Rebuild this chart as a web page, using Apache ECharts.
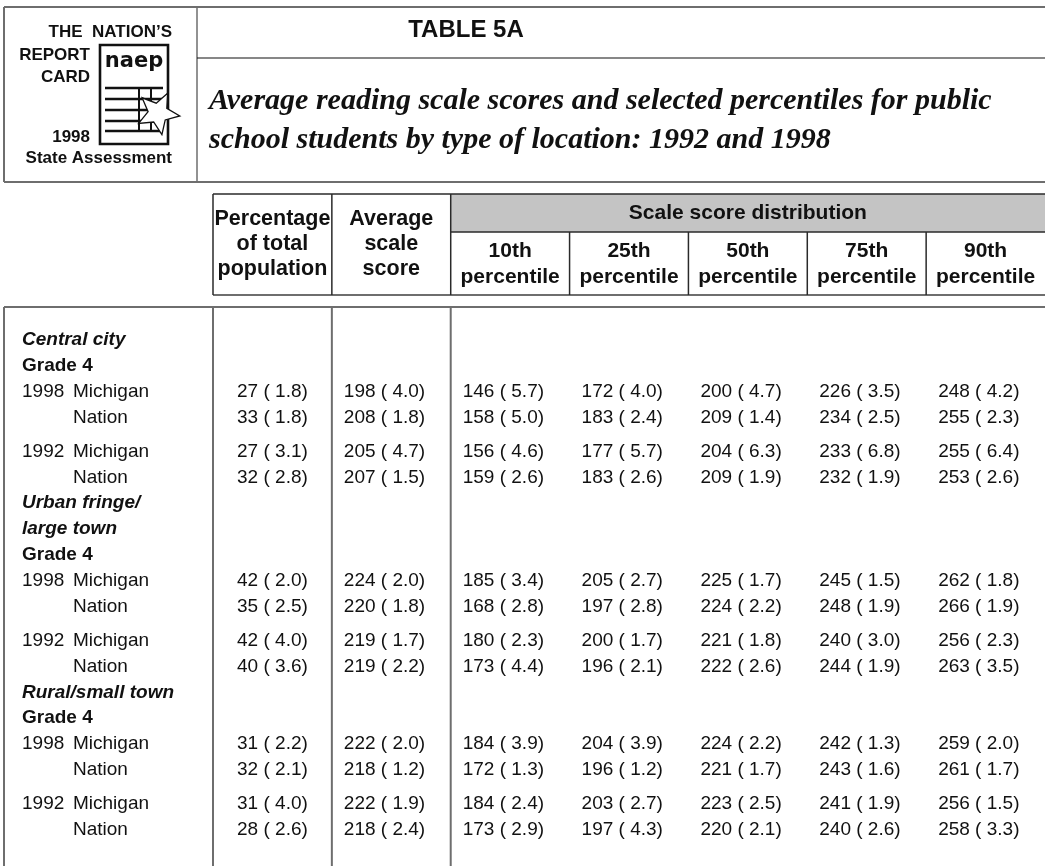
<!DOCTYPE html>
<html><head><meta charset="utf-8">
<script src="https://cdn.jsdelivr.net/npm/echarts@6/dist/echarts.min.js"></script>
<style>html,body{margin:0;padding:0;background:#fff}#c{width:1045px;height:866px}</style>
</head><body><div id="c"></div>
<script>
// ---------- DATA ----------
const columnKeys = ['pct', 'avg', 'p10', 'p25', 'p50', 'p75', 'p90'];
const topHeaders = [['Percentage', 'of total', 'population'], ['Average', 'scale', 'score']];
const groupHeader = 'Scale score distribution';
const percentileHeaders = ['10th', '25th', '50th', '75th', '90th'];
const locations = [['Central city'], ['Urban fringe/', 'large town'], ['Rural/small town']];
const gradeLabel = 'Grade 4';
const years = ['1998', '', '1992', ''];
const jurisdictions = ['Michigan', 'Nation', 'Michigan', 'Nation'];

// rows per location: 1998 Michigan, 1998 Nation, 1992 Michigan, 1992 Nation
const pctPopulation   = [27, 33, 27, 32,   42, 35, 42, 40,   31, 32, 31, 28];
const pctPopulationSE = [1.8, 1.8, 3.1, 2.8, 2.0, 2.5, 4.0, 3.6, 2.2, 2.1, 4.0, 2.6];
const avgScore        = [198, 208, 205, 207, 224, 220, 219, 219, 222, 218, 222, 218];
const avgScoreSE      = [4.0, 1.8, 4.7, 1.5, 2.0, 1.8, 1.7, 2.2, 2.0, 1.2, 1.9, 2.4];
const p10   = [146, 158, 156, 159, 185, 168, 180, 173, 184, 172, 184, 173];
const p10SE = [5.7, 5.0, 4.6, 2.6, 3.4, 2.8, 2.3, 4.4, 3.9, 1.3, 2.4, 2.9];
const p25   = [172, 183, 177, 183, 205, 197, 200, 196, 204, 196, 203, 197];
const p25SE = [4.0, 2.4, 5.7, 2.6, 2.7, 2.8, 1.7, 2.1, 3.9, 1.2, 2.7, 4.3];
const p50   = [200, 209, 204, 209, 225, 224, 221, 222, 224, 221, 223, 220];
const p50SE = [4.7, 1.4, 6.3, 1.9, 1.7, 2.2, 1.8, 2.6, 2.2, 1.7, 2.5, 2.1];
const p75   = [226, 234, 233, 232, 245, 248, 240, 244, 242, 243, 241, 240];
const p75SE = [3.5, 2.5, 6.8, 1.9, 1.5, 1.9, 3.0, 1.9, 1.3, 1.6, 1.9, 2.6];
const p90   = [248, 255, 255, 253, 262, 266, 256, 263, 259, 261, 256, 258];
const p90SE = [4.2, 2.3, 6.4, 2.6, 1.8, 1.9, 2.3, 3.5, 2.0, 1.7, 1.5, 3.3];

// ---------- LAYOUT ----------
const SANS = '"Liberation Sans", Arial, Helvetica, sans-serif';
const SERIF = '"Liberation Serif", "Times New Roman", serif';
const valueCols = [
  [pctPopulation, pctPopulationSE], [avgScore, avgScoreSE],
  [p10, p10SE], [p25, p25SE], [p50, p50SE], [p75, p75SE], [p90, p90SE]
];
const fmt = (v, se) => v + ' ( ' + se.toFixed(1) + ')';

const PITCH = 25.9, GAP = 7.8, FIRST_ROW = 340;
const labelRows = [];
const cellData = [];
const cellText = [];
let y = FIRST_ROW;
locations.forEach((loc, li) => {
  loc.forEach(line => { labelRows.push({ y, kind: 'loc', text: line }); y += PITCH; });
  labelRows.push({ y, kind: 'grade', text: gradeLabel }); y += PITCH;
  for (let r = 0; r < 4; r++) {
    if (r === 2) y += GAP;
    const idx = li * 4 + r;
    labelRows.push({ y, kind: 'row', year: years[r], text: jurisdictions[r] });
    valueCols.forEach((c, ci) => { cellData.push([ci, y]); cellText.push(fmt(c[0][idx], c[1][idx])); });
    y += PITCH;
  }
});

const HEAD_TOP = 194, BAND_BOTTOM = 232, HEAD_BOTTOM = 295, BODY_TOP = 307, BOTTOM = 870, TABLE_LEFT = 4;

function frame(params, api) {
  const bw = api.size([1, 0])[0];
  const edge = i => api.coord([0, 0])[0] - bw / 2 + i * bw;
  const cx = i => api.coord([i, 0])[0];
  const Y = v => api.coord([0, v])[1];
  const dark = { stroke: '#2a2a2a', lineWidth: 1.5 };
  const grey = { stroke: '#6e6e6e', lineWidth: 2 };
  const L = (x1, y1, x2, y2, s) => ({ type: 'line', shape: { x1, y1, x2, y2 }, style: s });
  const ch = [];
  ch.push({ type: 'rect', shape: { x: edge(2), y: Y(HEAD_TOP), width: edge(7) - edge(2), height: Y(BAND_BOTTOM) - Y(HEAD_TOP) }, style: { fill: '#c4c4c4' } });
  ch.push(L(edge(0), Y(HEAD_TOP), edge(7), Y(HEAD_TOP), dark));
  ch.push(L(edge(2), Y(BAND_BOTTOM), edge(7), Y(BAND_BOTTOM), dark));
  ch.push(L(edge(0), Y(HEAD_BOTTOM), edge(7), Y(HEAD_BOTTOM), grey));
  [0, 1, 2].forEach(i => ch.push(L(edge(i), Y(HEAD_TOP), edge(i), Y(HEAD_BOTTOM), dark)));
  [3, 4, 5, 6].forEach(i => ch.push(L(edge(i), Y(BAND_BOTTOM), edge(i), Y(HEAD_BOTTOM), dark)));
  ch.push(L(TABLE_LEFT, Y(BODY_TOP), edge(7), Y(BODY_TOP), grey));
  [TABLE_LEFT, edge(0), edge(1), edge(2)].forEach(x => ch.push(L(x, Y(BODY_TOP), x, Y(BOTTOM), grey)));
  const hfont = 'bold 21px ' + SANS;
  topHeaders.forEach((h, i) => ch.push({ type: 'text', style: { text: h.join('\n'), x: cx(i), y: Y(244.5), align: 'center', verticalAlign: 'middle', lineHeight: 25, font: 'bold 21.5px ' + SANS, fill: '#111' } }));
  ch.push({ type: 'text', style: { text: groupHeader, x: (edge(2) + edge(7)) / 2, y: Y(213.5), align: 'center', verticalAlign: 'middle', font: hfont, fill: '#111' } });
  percentileHeaders.forEach((h, i) => ch.push({ type: 'text', style: { text: h + '\npercentile', x: cx(i + 2), y: Y(264.5), align: 'center', verticalAlign: 'middle', lineHeight: 26, font: hfont, fill: '#111' } }));
  labelRows.forEach(r => {
    const yy = Y(r.y);
    if (r.kind === 'loc') ch.push({ type: 'text', style: { text: r.text, x: 22, y: yy, verticalAlign: 'middle', font: 'italic bold 19px ' + SANS, fill: '#111' } });
    else if (r.kind === 'grade') ch.push({ type: 'text', style: { text: r.text, x: 22, y: yy, verticalAlign: 'middle', font: 'bold 19px ' + SANS, fill: '#111' } });
    else {
      if (r.year) ch.push({ type: 'text', style: { text: r.year, x: 22, y: yy, verticalAlign: 'middle', font: '19px ' + SANS, fill: '#111' } });
      ch.push({ type: 'text', style: { text: r.text, x: 73, y: yy, verticalAlign: 'middle', font: '19px ' + SANS, fill: '#111' } });
    }
  });
  return { type: 'group', children: ch };
}

function cell(params, api) {
  const ci = api.value(0);
  const p = api.coord([ci, api.value(1)]);
  const bw = api.size([1, 0])[0];
  const left = ci !== 0;
  return {
    type: 'text',
    style: {
      text: cellText[params.dataIndex],
      x: left ? p[0] - bw / 2 + 12 : p[0], y: p[1],
      align: left ? 'left' : 'center', verticalAlign: 'middle',
      font: '19px ' + SANS, fill: '#111'
    }
  };
}

function starPoints(cx, cy, R, r, rot) {
  const pts = [];
  for (let k = 0; k < 10; k++) {
    const a = rot + k * Math.PI / 5;
    const rad = k % 2 === 0 ? R : r;
    pts.push([cx + rad * Math.sin(a), cy - rad * Math.cos(a)]);
  }
  return pts;
}
const logoFont = 'bold 17px ' + SANS;
const iconLines = [];
[88, 99, 110, 121, 131].forEach(v => iconLines.push({ type: 'line', shape: { x1: 105, y1: v, x2: 163, y2: v }, style: { stroke: '#111', lineWidth: 2.4 } }));
[139, 151].forEach(v => iconLines.push({ type: 'line', shape: { x1: v, y1: 88, x2: v, y2: 131 }, style: { stroke: '#111', lineWidth: 2 } }));

const chart = echarts.init(document.getElementById('c'), null, { renderer: 'canvas' });
chart.setOption({
  animation: false,
  backgroundColor: '#fff',
  grid: { left: 213, top: 0, width: 849, height: 866 },
  xAxis: { type: 'category', data: columnKeys, show: false, boundaryGap: true },
  yAxis: { type: 'value', min: 0, max: 866, inverse: true, show: false },
  series: [
    { type: 'custom', name: 'frame', data: [[0, 0]], renderItem: frame, clip: false, silent: true },
    { type: 'custom', name: 'cells', data: cellData, renderItem: cell, clip: false, silent: true }
  ],
  graphic: [
    { type: 'line', shape: { x1: 4, y1: 7, x2: 1045, y2: 7 }, style: { stroke: '#6e6e6e', lineWidth: 2 } },
    { type: 'line', shape: { x1: 4, y1: 182, x2: 1045, y2: 182 }, style: { stroke: '#6e6e6e', lineWidth: 2 } },
    { type: 'line', shape: { x1: 4, y1: 7, x2: 4, y2: 182 }, style: { stroke: '#6e6e6e', lineWidth: 2 } },
    { type: 'line', shape: { x1: 197, y1: 7, x2: 197, y2: 182 }, style: { stroke: '#6e6e6e', lineWidth: 1.5 } },
    { type: 'line', shape: { x1: 197, y1: 58, x2: 1045, y2: 58 }, style: { stroke: '#111', lineWidth: 1.2 } },
    { type: 'text', style: { text: 'TABLE 5A', x: 466, y: 30, align: 'center', verticalAlign: 'middle', font: 'bold 24px ' + SANS, fill: '#111' } },
    { type: 'text', style: { text: 'Average reading scale scores and selected percentiles for public', x: 209, y: 101, verticalAlign: 'middle', font: 'italic bold 30px ' + SERIF, fill: '#111' } },
    { type: 'text', style: { text: 'school students by type of location: 1992 and 1998', x: 209, y: 140, verticalAlign: 'middle', font: 'italic bold 30px ' + SERIF, fill: '#111' } },
    { type: 'text', style: { text: 'THE  NATION\u2019S', x: 172, y: 32, align: 'right', verticalAlign: 'middle', font: logoFont, fill: '#111' } },
    { type: 'text', style: { text: 'REPORT', x: 90, y: 55, align: 'right', verticalAlign: 'middle', font: logoFont, fill: '#111' } },
    { type: 'text', style: { text: 'CARD', x: 90, y: 77, align: 'right', verticalAlign: 'middle', font: logoFont, fill: '#111' } },
    { type: 'text', style: { text: '1998', x: 90, y: 137, align: 'right', verticalAlign: 'middle', font: logoFont, fill: '#111' } },
    { type: 'text', style: { text: 'State Assessment', x: 172, y: 158, align: 'right', verticalAlign: 'middle', font: logoFont, fill: '#111' } },
    { type: 'rect', shape: { x: 100, y: 45, width: 68, height: 99 }, style: { fill: '#fff', stroke: '#111', lineWidth: 2.6 } },
    { type: 'text', style: { text: 'naep', x: 134, y: 62, align: 'center', verticalAlign: 'middle', font: 'bold 21px "DejaVu Sans", ' + SANS, fill: '#111' } },
    { type: 'group', children: iconLines },
    { type: 'polygon', shape: { points: starPoints(158, 113, 22, 10, 0.45) }, style: { fill: '#fff', stroke: '#111', lineWidth: 1.3 } }
  ]
});
</script></body></html>
